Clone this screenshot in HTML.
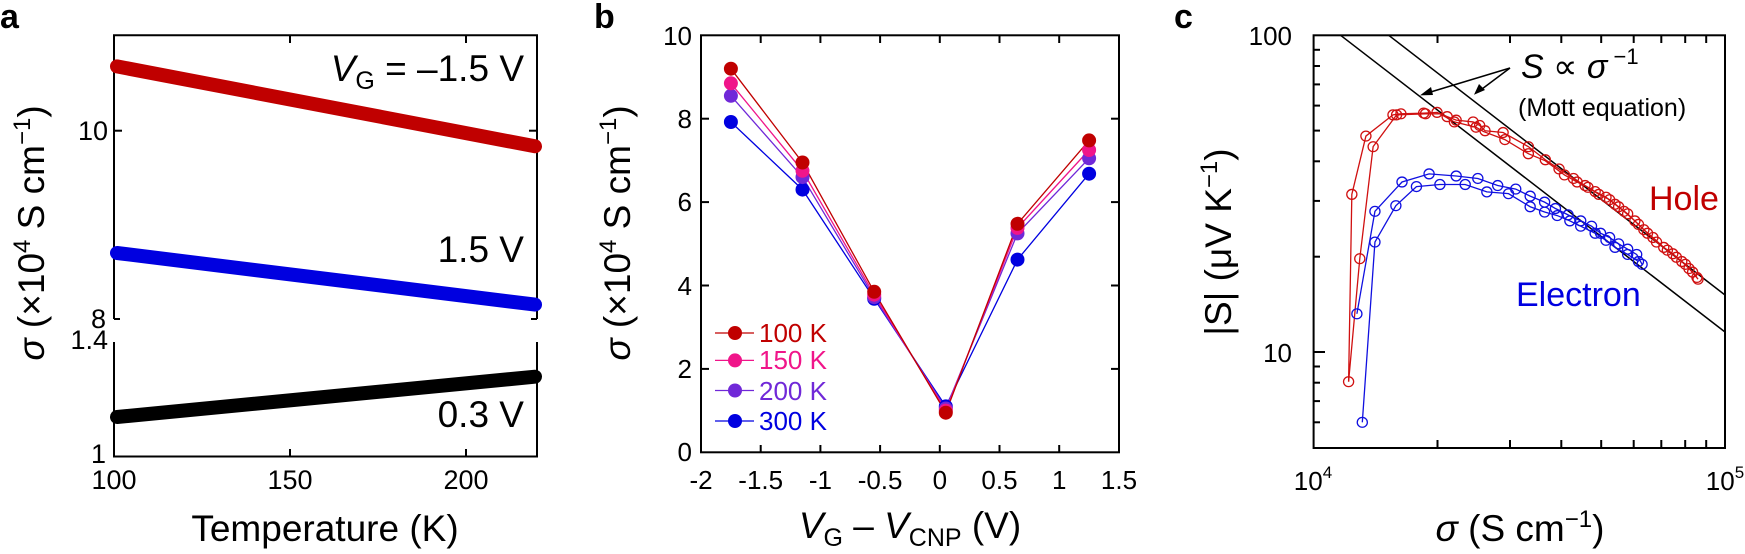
<!DOCTYPE html>
<html><head><meta charset="utf-8"><style>
html,body{margin:0;padding:0;background:#fff;width:1745px;height:554px;overflow:hidden}
text{font-family:"Liberation Sans",Arial,sans-serif}
</style></head><body>
<svg width="1745" height="554" viewBox="0 0 1745 554" xmlns="http://www.w3.org/2000/svg">
<!-- Panel a -->
<text x="0" y="28" font-size="34" font-weight="bold">a</text>
<g stroke="#000" stroke-width="2" fill="none">
<polyline points="114,319 114,35.3 537,35.3 537,319"/>
<polyline points="114,342 114,456.5 537,456.5 537,342"/>
<line x1="290" y1="35" x2="290" y2="43"/><line x1="466" y1="35" x2="466" y2="43"/>
<line x1="290" y1="456.5" x2="290" y2="449"/><line x1="466" y1="456.5" x2="466" y2="449"/>
<line x1="114" y1="130.7" x2="122" y2="130.7"/><line x1="537" y1="130.7" x2="529" y2="130.7"/>
<line x1="114" y1="319" x2="120" y2="319"/><line x1="537" y1="319" x2="531" y2="319"/>
</g>
<g stroke-linecap="round" stroke-width="14">
<line x1="117" y1="66.4" x2="535" y2="146.3" stroke="#c00000"/>
<line x1="117" y1="253" x2="535" y2="304.6" stroke="#0000e0"/>
<line x1="117" y1="417" x2="535" y2="376.7" stroke="#000"/>
</g>
<g font-size="27" text-anchor="end">
<text x="108" y="140">10</text><text x="106" y="328">8</text>
<text x="108" y="349">1.4</text><text x="106" y="463">1</text>
</g>
<g font-size="27" text-anchor="middle">
<text x="114" y="489">100</text><text x="290" y="489">150</text><text x="466" y="489">200</text>
</g>
<text x="325" y="541" font-size="37" text-anchor="middle">Temperature (K)</text>
<text transform="translate(44,233) rotate(-90)" font-size="37" text-anchor="middle"><tspan font-style="italic">σ</tspan> (×10<tspan font-size="24" dy="-14">4</tspan><tspan dy="14"> S cm</tspan><tspan font-size="24" dy="-14">−1</tspan><tspan dy="14">)</tspan></text>
<text x="524" y="81" font-size="37" text-anchor="end"><tspan font-style="italic">V</tspan><tspan font-size="25" dy="8">G</tspan><tspan dy="-8"> = –1.5 V</tspan></text>
<text x="524" y="262" font-size="37" text-anchor="end">1.5 V</text>
<text x="524" y="427" font-size="37" text-anchor="end">0.3 V</text>

<!-- Panel b -->
<text x="594" y="28" font-size="34" font-weight="bold">b</text>
<rect x="701" y="35.3" width="418" height="417" fill="none" stroke="#000" stroke-width="2"/>
<g stroke="#000" stroke-width="2">
<line x1="760.7" y1="452.3" x2="760.7" y2="445"/><line x1="820.4" y1="452.3" x2="820.4" y2="445"/>
<line x1="880.1" y1="452.3" x2="880.1" y2="445"/><line x1="939.8" y1="452.3" x2="939.8" y2="445"/>
<line x1="999.5" y1="452.3" x2="999.5" y2="445"/><line x1="1059.2" y1="452.3" x2="1059.2" y2="445"/>
<line x1="760.7" y1="35.3" x2="760.7" y2="43"/><line x1="820.4" y1="35.3" x2="820.4" y2="43"/>
<line x1="880.1" y1="35.3" x2="880.1" y2="43"/><line x1="939.8" y1="35.3" x2="939.8" y2="43"/>
<line x1="999.5" y1="35.3" x2="999.5" y2="43"/><line x1="1059.2" y1="35.3" x2="1059.2" y2="43"/>
<line x1="701" y1="368.9" x2="709" y2="368.9"/><line x1="701" y1="285.5" x2="709" y2="285.5"/>
<line x1="701" y1="202.1" x2="709" y2="202.1"/><line x1="701" y1="118.7" x2="709" y2="118.7"/>
<line x1="1119" y1="368.9" x2="1111" y2="368.9"/><line x1="1119" y1="285.5" x2="1111" y2="285.5"/>
<line x1="1119" y1="202.1" x2="1111" y2="202.1"/><line x1="1119" y1="118.7" x2="1111" y2="118.7"/>
</g>
<g font-size="26" text-anchor="end">
<text x="692" y="461">0</text><text x="692" y="378">2</text><text x="692" y="295">4</text>
<text x="692" y="211">6</text><text x="692" y="128">8</text><text x="692" y="45">10</text>
</g>
<g font-size="26" text-anchor="middle">
<text x="701" y="489">-2</text><text x="760.7" y="489">-1.5</text><text x="820.4" y="489">-1</text>
<text x="880.1" y="489">-0.5</text><text x="939.8" y="489">0</text><text x="999.5" y="489">0.5</text>
<text x="1059.2" y="489">1</text><text x="1119" y="489">1.5</text>
</g>
<text x="910" y="538" font-size="37" text-anchor="middle"><tspan font-style="italic">V</tspan><tspan font-size="25" dy="8">G</tspan><tspan dy="-8"> – </tspan><tspan font-style="italic">V</tspan><tspan font-size="25" dy="8">CNP</tspan><tspan dy="-8"> (V)</tspan></text>
<text transform="translate(630,233) rotate(-90)" font-size="37" text-anchor="middle"><tspan font-style="italic">σ</tspan> (×10<tspan font-size="24" dy="-14">4</tspan><tspan dy="14"> S cm</tspan><tspan font-size="24" dy="-14">−1</tspan><tspan dy="14">)</tspan></text>
<g stroke-width="1.3" fill="none">
<polyline stroke="#0000e0" points="730.9,122 802.5,189.6 874.2,298.8 945.8,406.4 1017.5,259.6 1089.1,173.7"/>
<polyline stroke="#7028d8" points="730.9,95.8 802.5,177.1 874.2,297.2 945.8,408.5 1017.5,233.4 1089.1,158.3"/>
<polyline stroke="#f0158a" points="730.9,83.3 802.5,170.8 874.2,294.7 945.8,410.6 1017.5,227.9 1089.1,150"/>
<polyline stroke="#c00000" points="730.9,68.7 802.5,162.5 874.2,291.8 945.8,412.7 1017.5,223.8 1089.1,140.4"/>
</g>
<g fill="#0000e0"><circle cx="730.9" cy="122" r="7"/><circle cx="802.5" cy="189.6" r="7"/><circle cx="874.2" cy="298.8" r="7"/><circle cx="945.8" cy="406.4" r="7"/><circle cx="1017.5" cy="259.6" r="7"/><circle cx="1089.1" cy="173.7" r="7"/></g>
<g fill="#7028d8"><circle cx="730.9" cy="95.8" r="7"/><circle cx="802.5" cy="177.1" r="7"/><circle cx="874.2" cy="297.2" r="7"/><circle cx="945.8" cy="408.5" r="7"/><circle cx="1017.5" cy="233.4" r="7"/><circle cx="1089.1" cy="158.3" r="7"/></g>
<g fill="#f0158a"><circle cx="730.9" cy="83.3" r="7"/><circle cx="802.5" cy="170.8" r="7"/><circle cx="874.2" cy="294.7" r="7"/><circle cx="945.8" cy="410.6" r="7"/><circle cx="1017.5" cy="227.9" r="7"/><circle cx="1089.1" cy="150" r="7"/></g>
<g fill="#c00000"><circle cx="730.9" cy="68.7" r="7"/><circle cx="802.5" cy="162.5" r="7"/><circle cx="874.2" cy="291.8" r="7"/><circle cx="945.8" cy="412.7" r="7"/><circle cx="1017.5" cy="223.8" r="7"/><circle cx="1089.1" cy="140.4" r="7"/></g>
<g stroke-width="1.3">
<line x1="715" y1="333" x2="754" y2="333" stroke="#c00000"/><circle cx="735" cy="333" r="7" fill="#c00000"/>
<line x1="715" y1="360.4" x2="754" y2="360.4" stroke="#f0158a"/><circle cx="735" cy="360.4" r="7" fill="#f0158a"/>
<line x1="715" y1="390.5" x2="754" y2="390.5" stroke="#7028d8"/><circle cx="735" cy="390.5" r="7" fill="#7028d8"/>
<line x1="715" y1="421" x2="754" y2="421" stroke="#0000e0"/><circle cx="735" cy="421" r="7" fill="#0000e0"/>
</g>
<g font-size="26">
<text x="759" y="342" fill="#c00000">100 K</text><text x="759" y="369" fill="#f0158a">150 K</text>
<text x="759" y="400" fill="#7028d8">200 K</text><text x="759" y="430" fill="#0000e0">300 K</text>
</g>

<!-- Panel c -->
<text x="1174" y="28" font-size="34" font-weight="bold">c</text>
<rect x="1313.6" y="35.3" width="411.4" height="412.7" fill="none" stroke="#000" stroke-width="2"/>
<g stroke="#000" stroke-width="2">
<line x1="1437.5" y1="35" x2="1437.5" y2="43"/><line x1="1510" y1="35" x2="1510" y2="43"/><line x1="1561.3" y1="35" x2="1561.3" y2="43"/><line x1="1601.2" y1="35" x2="1601.2" y2="43"/><line x1="1633.7" y1="35" x2="1633.7" y2="43"/><line x1="1661.3" y1="35" x2="1661.3" y2="43"/><line x1="1685.2" y1="35" x2="1685.2" y2="43"/><line x1="1706.2" y1="35" x2="1706.2" y2="43"/>
<line x1="1437.5" y1="448" x2="1437.5" y2="440"/><line x1="1510" y1="448" x2="1510" y2="440"/><line x1="1561.3" y1="448" x2="1561.3" y2="440"/><line x1="1601.2" y1="448" x2="1601.2" y2="440"/><line x1="1633.7" y1="448" x2="1633.7" y2="440"/><line x1="1661.3" y1="448" x2="1661.3" y2="440"/><line x1="1685.2" y1="448" x2="1685.2" y2="440"/><line x1="1706.2" y1="448" x2="1706.2" y2="440"/>
<line x1="1313.6" y1="352" x2="1325" y2="352"/>
<line x1="1313.6" y1="422.3" x2="1320" y2="422.3"/><line x1="1313.6" y1="401.1" x2="1320" y2="401.1"/><line x1="1313.6" y1="382.7" x2="1320" y2="382.7"/><line x1="1313.6" y1="366.5" x2="1320" y2="366.5"/>
<line x1="1313.6" y1="256.7" x2="1320" y2="256.7"/><line x1="1313.6" y1="200.9" x2="1320" y2="200.9"/><line x1="1313.6" y1="161.3" x2="1320" y2="161.3"/><line x1="1313.6" y1="130.6" x2="1320" y2="130.6"/><line x1="1313.6" y1="105.6" x2="1320" y2="105.6"/><line x1="1313.6" y1="84.4" x2="1320" y2="84.4"/><line x1="1313.6" y1="66" x2="1320" y2="66"/><line x1="1313.6" y1="49.8" x2="1320" y2="49.8"/>
</g>
<g font-size="26" text-anchor="end"><text x="1292" y="45">100</text><text x="1292" y="362">10</text></g>
<text x="1313" y="490" font-size="26" text-anchor="middle">10<tspan font-size="17" dy="-12">4</tspan></text>
<text x="1725" y="490" font-size="26" text-anchor="middle">10<tspan font-size="17" dy="-12">5</tspan></text>
<text x="1520" y="541" font-size="37" text-anchor="middle"><tspan font-style="italic">σ</tspan> (S cm<tspan font-size="24" dy="-14">−1</tspan><tspan dy="14">)</tspan></text>
<text transform="translate(1231,242) rotate(-90)" font-size="37" text-anchor="middle">|S| (μV K<tspan font-size="24" dy="-14">−1</tspan><tspan dy="14">)</tspan></text>
<g stroke="#000" stroke-width="1.5">
<line x1="1340.6" y1="35.3" x2="1725" y2="332"/><line x1="1388.7" y1="35.3" x2="1725" y2="295"/>
<line x1="1510" y1="68" x2="1424" y2="94"/><line x1="1510" y1="68" x2="1478" y2="92"/>
</g>
<polygon points="1420,95.4 1431,87 1433,95" fill="#000"/>
<polygon points="1474,94.7 1479,84 1485,90" fill="#000"/>
<text x="1521" y="78" font-size="34"><tspan font-style="italic">S</tspan> ∝ <tspan font-style="italic">σ</tspan><tspan font-size="22" dy="-14"> −1</tspan></text>
<text x="1518" y="116" font-size="25">(Mott equation)</text>
<text x="1649" y="210" font-size="34" fill="#c00000">Hole</text>
<text x="1516" y="306" font-size="34" fill="#0000e0">Electron</text>
<g transform="translate(1180,0) scale(0.361,0.3534)" fill="none">
<g stroke="#d01010" stroke-width="1.3">
<polyline vector-effect="non-scaling-stroke" points="467,1080 476,550 515,385 590,325 612,322 675,320 712,318 740,330 765,340 812,345 830,355 845,370 895,375 965,415 1012,452 1050,478 1090,505 1122,525 1150,542 1180,558 1205,578 1230,598 1260,625 1285,650 1310,672 1340,700 1365,718 1390,740 1410,760 1432,785"/>
<polyline vector-effect="non-scaling-stroke" points="467,1080 498,732 535,415 600,325 680,322 720,322 760,345 820,360 840,372 900,395 965,435 1012,455 1065,495 1100,515 1130,530 1160,550 1190,565 1215,585 1240,605 1270,635 1295,660 1320,685 1350,708 1375,728 1400,748 1420,770 1435,790"/>
<g>
<circle vector-effect="non-scaling-stroke" cx="467" cy="1080" r="14"/><circle vector-effect="non-scaling-stroke" cx="476" cy="550" r="14"/><circle vector-effect="non-scaling-stroke" cx="515" cy="385" r="14"/><circle vector-effect="non-scaling-stroke" cx="590" cy="325" r="14"/><circle vector-effect="non-scaling-stroke" cx="612" cy="322" r="14"/><circle vector-effect="non-scaling-stroke" cx="675" cy="320" r="14"/><circle vector-effect="non-scaling-stroke" cx="712" cy="318" r="14"/><circle vector-effect="non-scaling-stroke" cx="740" cy="330" r="14"/><circle vector-effect="non-scaling-stroke" cx="765" cy="340" r="14"/><circle vector-effect="non-scaling-stroke" cx="812" cy="345" r="14"/><circle vector-effect="non-scaling-stroke" cx="830" cy="355" r="14"/><circle vector-effect="non-scaling-stroke" cx="845" cy="370" r="14"/><circle vector-effect="non-scaling-stroke" cx="895" cy="375" r="14"/><circle vector-effect="non-scaling-stroke" cx="965" cy="415" r="14"/><circle vector-effect="non-scaling-stroke" cx="1012" cy="452" r="14"/><circle vector-effect="non-scaling-stroke" cx="1050" cy="478" r="14"/><circle vector-effect="non-scaling-stroke" cx="1090" cy="505" r="14"/><circle vector-effect="non-scaling-stroke" cx="1122" cy="525" r="14"/><circle vector-effect="non-scaling-stroke" cx="1150" cy="542" r="14"/><circle vector-effect="non-scaling-stroke" cx="1180" cy="558" r="14"/><circle vector-effect="non-scaling-stroke" cx="1205" cy="578" r="14"/><circle vector-effect="non-scaling-stroke" cx="1230" cy="598" r="14"/><circle vector-effect="non-scaling-stroke" cx="1260" cy="625" r="14"/><circle vector-effect="non-scaling-stroke" cx="1285" cy="650" r="14"/><circle vector-effect="non-scaling-stroke" cx="1310" cy="672" r="14"/><circle vector-effect="non-scaling-stroke" cx="1340" cy="700" r="14"/><circle vector-effect="non-scaling-stroke" cx="1365" cy="718" r="14"/><circle vector-effect="non-scaling-stroke" cx="1390" cy="740" r="14"/><circle vector-effect="non-scaling-stroke" cx="1410" cy="760" r="14"/><circle vector-effect="non-scaling-stroke" cx="1432" cy="785" r="14"/>
<circle vector-effect="non-scaling-stroke" cx="498" cy="732" r="14"/><circle vector-effect="non-scaling-stroke" cx="535" cy="415" r="14"/><circle vector-effect="non-scaling-stroke" cx="600" cy="325" r="14"/><circle vector-effect="non-scaling-stroke" cx="680" cy="322" r="14"/><circle vector-effect="non-scaling-stroke" cx="760" cy="345" r="14"/><circle vector-effect="non-scaling-stroke" cx="820" cy="360" r="14"/><circle vector-effect="non-scaling-stroke" cx="900" cy="395" r="14"/><circle vector-effect="non-scaling-stroke" cx="965" cy="435" r="14"/><circle vector-effect="non-scaling-stroke" cx="1065" cy="495" r="14"/><circle vector-effect="non-scaling-stroke" cx="1100" cy="515" r="14"/><circle vector-effect="non-scaling-stroke" cx="1130" cy="530" r="14"/><circle vector-effect="non-scaling-stroke" cx="1160" cy="550" r="14"/><circle vector-effect="non-scaling-stroke" cx="1190" cy="565" r="14"/><circle vector-effect="non-scaling-stroke" cx="1215" cy="585" r="14"/><circle vector-effect="non-scaling-stroke" cx="1240" cy="605" r="14"/><circle vector-effect="non-scaling-stroke" cx="1270" cy="635" r="14"/><circle vector-effect="non-scaling-stroke" cx="1295" cy="660" r="14"/><circle vector-effect="non-scaling-stroke" cx="1320" cy="685" r="14"/><circle vector-effect="non-scaling-stroke" cx="1350" cy="708" r="14"/><circle vector-effect="non-scaling-stroke" cx="1375" cy="728" r="14"/><circle vector-effect="non-scaling-stroke" cx="1400" cy="748" r="14"/><circle vector-effect="non-scaling-stroke" cx="1420" cy="770" r="14"/><circle vector-effect="non-scaling-stroke" cx="1435" cy="790" r="14"/>
</g>
</g>
<g stroke="#1010e0" stroke-width="1.3">
<polyline vector-effect="non-scaling-stroke" points="490,888 540,598 615,515 690,492 765,498 825,505 880,525 930,535 970,555 1010,572 1040,590 1075,608 1110,625 1140,640 1165,660 1190,672 1215,690 1240,705 1265,720 1280,748"/>
<polyline vector-effect="non-scaling-stroke" points="505,1195 540,685 598,582 655,528 720,522 790,522 850,543 910,548 970,585 1010,600 1045,610 1080,625 1110,640 1150,660 1180,680 1205,700 1240,720 1270,740"/>
<circle vector-effect="non-scaling-stroke" cx="490" cy="888" r="14"/><circle vector-effect="non-scaling-stroke" cx="540" cy="598" r="14"/><circle vector-effect="non-scaling-stroke" cx="615" cy="515" r="14"/><circle vector-effect="non-scaling-stroke" cx="690" cy="492" r="14"/><circle vector-effect="non-scaling-stroke" cx="765" cy="498" r="14"/><circle vector-effect="non-scaling-stroke" cx="825" cy="505" r="14"/><circle vector-effect="non-scaling-stroke" cx="880" cy="525" r="14"/><circle vector-effect="non-scaling-stroke" cx="930" cy="535" r="14"/><circle vector-effect="non-scaling-stroke" cx="970" cy="555" r="14"/><circle vector-effect="non-scaling-stroke" cx="1010" cy="572" r="14"/><circle vector-effect="non-scaling-stroke" cx="1040" cy="590" r="14"/><circle vector-effect="non-scaling-stroke" cx="1075" cy="608" r="14"/><circle vector-effect="non-scaling-stroke" cx="1110" cy="625" r="14"/><circle vector-effect="non-scaling-stroke" cx="1140" cy="640" r="14"/><circle vector-effect="non-scaling-stroke" cx="1165" cy="660" r="14"/><circle vector-effect="non-scaling-stroke" cx="1190" cy="672" r="14"/><circle vector-effect="non-scaling-stroke" cx="1215" cy="690" r="14"/><circle vector-effect="non-scaling-stroke" cx="1240" cy="705" r="14"/><circle vector-effect="non-scaling-stroke" cx="1265" cy="720" r="14"/><circle vector-effect="non-scaling-stroke" cx="1280" cy="748" r="14"/>
<circle vector-effect="non-scaling-stroke" cx="505" cy="1195" r="14"/><circle vector-effect="non-scaling-stroke" cx="540" cy="685" r="14"/><circle vector-effect="non-scaling-stroke" cx="598" cy="582" r="14"/><circle vector-effect="non-scaling-stroke" cx="655" cy="528" r="14"/><circle vector-effect="non-scaling-stroke" cx="720" cy="522" r="14"/><circle vector-effect="non-scaling-stroke" cx="790" cy="522" r="14"/><circle vector-effect="non-scaling-stroke" cx="850" cy="543" r="14"/><circle vector-effect="non-scaling-stroke" cx="910" cy="548" r="14"/><circle vector-effect="non-scaling-stroke" cx="970" cy="585" r="14"/><circle vector-effect="non-scaling-stroke" cx="1010" cy="600" r="14"/><circle vector-effect="non-scaling-stroke" cx="1045" cy="610" r="14"/><circle vector-effect="non-scaling-stroke" cx="1080" cy="625" r="14"/><circle vector-effect="non-scaling-stroke" cx="1110" cy="640" r="14"/><circle vector-effect="non-scaling-stroke" cx="1150" cy="660" r="14"/><circle vector-effect="non-scaling-stroke" cx="1180" cy="680" r="14"/><circle vector-effect="non-scaling-stroke" cx="1205" cy="700" r="14"/><circle vector-effect="non-scaling-stroke" cx="1240" cy="720" r="14"/><circle vector-effect="non-scaling-stroke" cx="1270" cy="740" r="14"/>
</g>
</g>
</svg>
</body></html>
